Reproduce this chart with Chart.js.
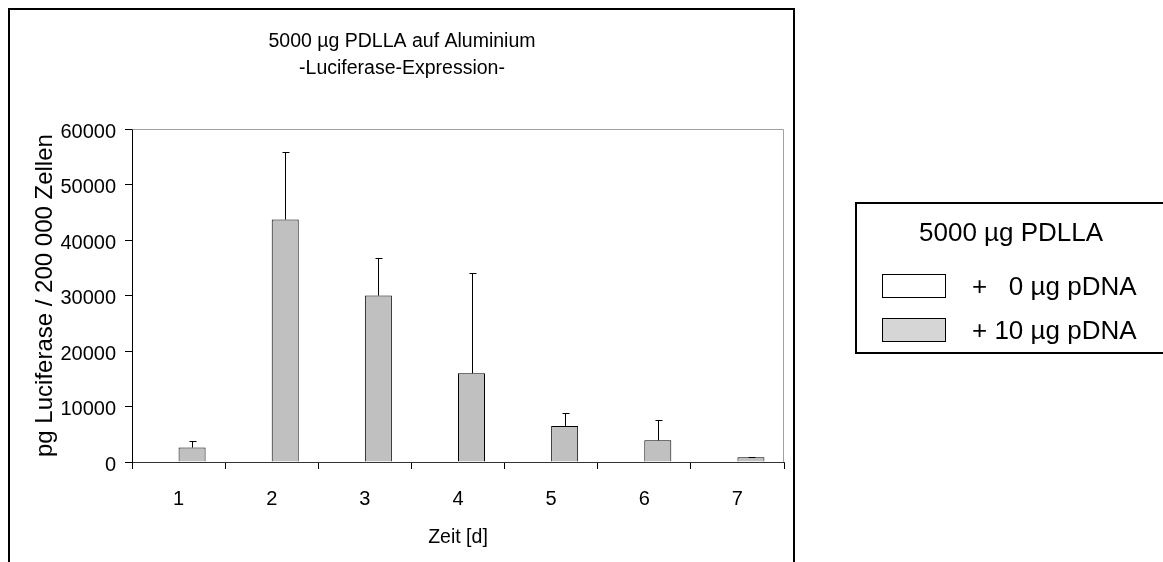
<!DOCTYPE html>
<html lang="de">
<head>
  <meta charset="UTF-8">
  <title>5000 µg PDLLA auf Aluminium</title>
  <script src="https://cdn.jsdelivr.net/npm/chart.js"></script>
  <style>
    body {
      margin: 0;
      background: #fff;
      width: 1163px;
      height: 562px;
      overflow: hidden;
      position: relative;
      font-family: 'Liberation Sans', Arial, sans-serif;
      color: #000;
    }

    .chartBox {
      position: absolute;
      left: 8px;
      top: 8px;
      width: 787px;
      height: 600px;
      box-sizing: border-box;
      border: 2px solid #000;
    }

    .wrap {
      position: absolute;
      left: 0;
      top: 0;
      width: 1163px;
      height: 562px;
    }

    .legend {
      position: absolute;
      left: 855px;
      top: 202px;
      width: 330px;
      height: 152px;
      box-sizing: border-box;
      border: 2px solid #000;
    }

    .legend .head {
      position: absolute;
      left: 62px;
      top: 13px;
      font-size: 26px;
      line-height: 30px;
      white-space: pre;
    }

    .legend .item {
      position: absolute;
      left: 25px;
      display: flex;
      align-items: center;
      font-size: 26px;
      line-height: 30px;
      white-space: pre;
    }

    .legend .swatch {
      width: 64px;
      height: 24px;
      box-sizing: border-box;
      border: 1.5px solid #000;
      margin-right: 26px;
    }
  </style>
</head>
<body>
  <div class="chartBox"></div>
  <div class="wrap"><canvas id="chart"></canvas></div>

  <div class="legend">
    <div class="head">5000 µg PDLLA</div>
    <div class="item" style="top: 67px;"><div class="swatch" style="background:#fff"></div><span id="lab0"></span></div>
    <div class="item" style="top: 111px;"><div class="swatch" style="background:#d6d6d6"></div><span id="lab1"></span></div>
  </div>

  <script>
    const days = ['1', '2', '3', '4', '5', '6', '7'];
    const seriesNames = ['+   0 µg pDNA', '+ 10 µg pDNA'];
    const ohneDNA = [0, 0, 0, 0, 0, 0, 0];
    const mitDNA = [2600, 43700, 30000, 16000, 6500, 3900, 850];
    const mitDNAsd = [1100, 12200, 6800, 18100, 2300, 3700, 100];
    const yTicks = [0, 10000, 20000, 30000, 40000, 50000, 60000];

    document.getElementById('lab0').textContent = seriesNames[0];
    document.getElementById('lab1').textContent = seriesNames[1];

    const fontFam = "'Liberation Sans', Arial, sans-serif";

    // Fehlerbalken (nur nach oben) + grauer Rahmen oben/rechts
    const errorBars = {
      id: 'errorBars',
      afterDatasetsDraw(chart) {
        const ctx = chart.ctx;
        const y = chart.scales.y;
        const meta = chart.getDatasetMeta(1);
        ctx.save();
        ctx.strokeStyle = '#000';
        ctx.lineWidth = 1;
        meta.data.forEach((bar, i) => {
          const x = Math.round(bar.x) + 0.5;
          const y0 = y.getPixelForValue(mitDNA[i]);
          const y1 = Math.round(y.getPixelForValue(mitDNA[i] + mitDNAsd[i])) + 0.5;
          ctx.beginPath();
          ctx.moveTo(x, y0);
          ctx.lineTo(x, y1);
          ctx.moveTo(x - 3, y1);
          ctx.lineTo(x + 4, y1);
          ctx.stroke();
        });
        ctx.restore();
      },
      beforeDatasetsDraw(chart) {
        const {ctx, chartArea: a} = chart;
        ctx.save();
        ctx.strokeStyle = '#a0a0a0';
        ctx.lineWidth = 1;
        ctx.beginPath();
        ctx.moveTo(Math.round(a.left) + 0.5, Math.round(a.top) + 0.5);
        ctx.lineTo(Math.round(a.right) - 0.5, Math.round(a.top) + 0.5);
        ctx.lineTo(Math.round(a.right) - 0.5, Math.round(a.bottom));
        ctx.stroke();
        ctx.restore();
      }
    };

    new Chart(document.getElementById('chart'), {
      type: 'bar',
      data: {
        labels: days,
        datasets: [
          {
            label: seriesNames[0],
            data: ohneDNA,
            backgroundColor: '#ffffff',
            borderColor: '#000',
            borderWidth: 1
          },
          {
            label: seriesNames[1],
            data: mitDNA,
            backgroundColor: '#c0c0c0',
            borderColor: '#000',
            borderWidth: 1
          }
        ]
      },
      options: {
        responsive: true,
        maintainAspectRatio: false,
        animation: false,
        datasets: {
          bar: { categoryPercentage: 0.58, barPercentage: 1 }
        },
        layout: {
          padding: { left: 20, right: 379, top: 0, bottom: 0 }
        },
        plugins: {
          legend: { display: false },
          tooltip: { enabled: false },
          title: {
            display: true,
            text: ['5000 µg PDLLA auf Aluminium', '-Luciferase-Expression-'],
            color: '#000',
            font: { family: fontFam, size: 19.5, weight: 'normal', lineHeight: 1.4 },
            padding: { top: 27.5, bottom: 47 }
          }
        },
        scales: {
          x: {
            afterFit(scale) { scale.height = 100; },
            grid: {
              display: true,
              drawOnChartArea: false,
              drawTicks: true,
              tickLength: 7,
              offset: true,
              color: '#000'
            },
            border: { display: true, color: '#333', width: 1 },
            ticks: {
              color: '#000',
              padding: 18,
              font: { family: fontFam, size: 20 }
            },
            title: {
              display: true,
              text: 'Zeit [d]',
              color: '#000',
              font: { family: fontFam, size: 19.5 },
              padding: { top: 0, bottom: 12.3 }
            }
          },
          y: {
            min: 0,
            max: 60000,
            afterFit(scale) { scale.width = 112; },
            afterBuildTicks(scale) {
              scale.ticks = yTicks.map(v => ({ value: v }));
            },
            grid: {
              display: true,
              drawOnChartArea: false,
              drawTicks: true,
              tickLength: 7,
              color: '#000'
            },
            border: { display: true, color: '#000', width: 1 },
            ticks: {
              color: '#000',
              padding: 9,
              labelOffset: 3,
              font: { family: fontFam, size: 20 },
              callback: v => String(v)
            },
            title: {
              display: true,
              text: 'pg Luciferase / 200 000 Zellen',
              color: '#000',
              font: { family: fontFam, size: 24 },
              padding: { top: 10.6, bottom: 0 }
            }
          }
        }
      },
      plugins: [errorBars]
    });
  </script>
</body>
</html>
